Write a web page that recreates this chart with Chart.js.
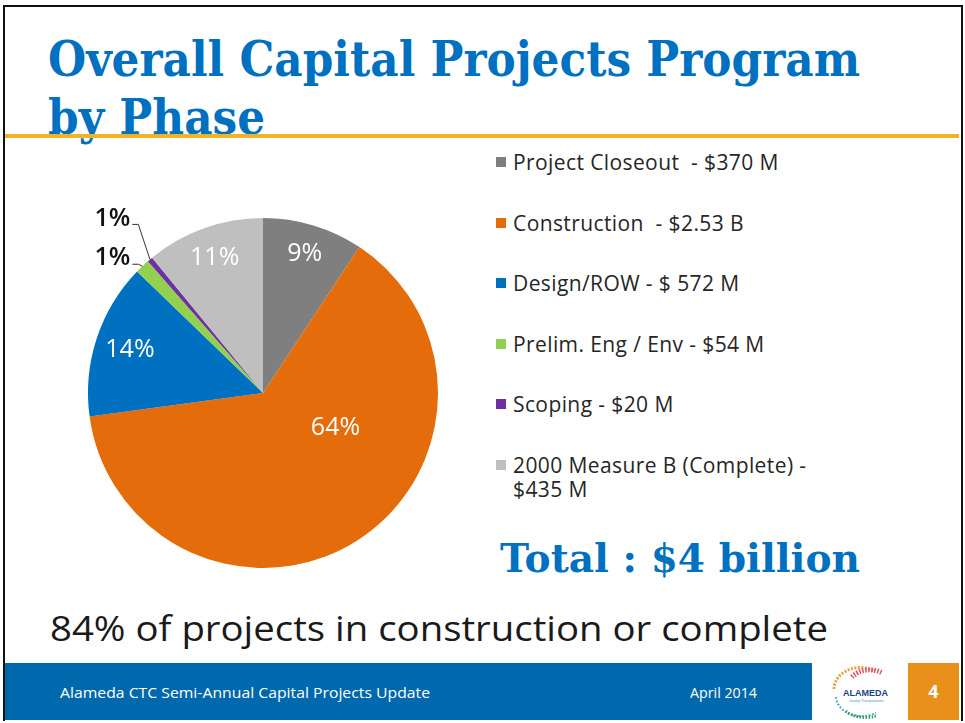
<!DOCTYPE html>
<html>
<head>
<meta charset="utf-8">
<script src="https://cdn.jsdelivr.net/npm/chart.js@4.4.1/dist/chart.umd.min.js"></script>
<style>
  html, body { margin: 0; padding: 0; background: #fff; }
  #slide { position: relative; width: 965px; height: 723px; overflow: hidden; background: #fff; }
  .frame { position: absolute; left: 3px; top: 5px; width: 956px; height: 714px; border: 2px solid #111; border-bottom: 0; }
  .serifa { font-family: "DejaVu Serif", "Liberation Serif", serif; font-weight: bold; color: #0070C0;
            white-space: nowrap; transform-origin: 0 0; }
  #titulo { position: absolute; left: 48px; top: 30px; font-size: 48px; line-height: 58px; }
  .gold { position: absolute; left: 5px; top: 134px; width: 954px; height: 4px; background: #F0B323; }
  #pieBox { position: absolute; left: 63px; top: 193px; width: 400px; height: 400px; }
  #legenda { position: absolute; left: 496px; top: 150px; width: 360px; font-family: "Open Sans", sans-serif;
             font-size: 21px; letter-spacing: 0.4px; line-height: 24px; color: #262626; }
  .leg-item { display: flex; align-items: flex-start; margin-bottom: 36.5px; }
  .leg-sq { width: 10px; height: 10px; margin-top: 7px; margin-right: 7px; flex: none; }
  .leg-txt { width: 320px; white-space: pre-wrap; }
  #total { position: absolute; left: 500px; top: 534px; font-size: 40px; }
  .larg { white-space: nowrap; transform-origin: 0 0; }
  #resumo { position: absolute; left: 50px; top: 605px; font-family: "Open Sans", sans-serif; font-size: 34px;
            color: #1a1a1a; }
  .rodape { position: absolute; left: 5px; top: 663px; width: 807px; height: 57px; background: #0068AC; }
  .rod-txt { position: absolute; top: 683px; font-family: "Open Sans", sans-serif; font-size: 14px; color: #fff; }
  .logo { position: absolute; left: 812px; top: 663px; width: 96px; height: 57px; background: #fff; }
  .pagina { position: absolute; left: 908px; top: 663px; width: 51px; height: 57px; background: #E8901A;
            color: #fff; font: bold 18px "Open Sans", sans-serif; text-align: center; line-height: 57px; }
</style>
</head>
<body>
<div id="slide">
  <div class="frame"></div>
  <div id="titulo" class="serifa" data-w="812">Overall Capital Projects Program<br>by Phase</div>
  <div class="gold"></div>
  <div id="pieBox"><canvas id="chartFase"></canvas></div>
  <div id="legenda"></div>
  <div id="total" class="serifa" data-w="360">Total : $4 billion</div>
  <div id="resumo" class="larg" data-w="778">84% of projects in construction or complete</div>
  <div class="rodape"></div>
  <div class="rod-txt larg" style="left:60px" data-w="370">Alameda CTC Semi-Annual Capital Projects Update</div>
  <div class="rod-txt larg" style="left:690px" data-w="67">April 2014</div>
  <div class="logo">
    <svg width="96" height="57" viewBox="0 0 96 57">
      <path d="M22 26 A26 22 0 0 1 62 8" fill="none" stroke="#E8A040" stroke-width="3" stroke-dasharray="2 1.5"/>
      <path d="M40 14 A22 18 0 0 1 70 10" fill="none" stroke="#D8506A" stroke-width="5" stroke-dasharray="1.5 1.5"/>
      <text x="31" y="33" font-family="Liberation Sans, sans-serif" font-weight="bold" font-size="9" fill="#1b3f8f">ALAMEDA</text>
      <text x="37" y="39" font-family="Liberation Sans, sans-serif" font-size="3.5" fill="#4a90c8">County Transportation</text>
      <path d="M24 34 A26 20 0 0 0 64 50" fill="none" stroke="#4AB0C8" stroke-width="2" stroke-dasharray="2 1.5"/>
      <path d="M34 48 A22 12 0 0 0 64 53" fill="none" stroke="#3A9A70" stroke-width="3" stroke-dasharray="1.5 1.5"/>
    </svg>
  </div>
  <div class="pagina">4</div>
</div>
<script>
// dados do gráfico (valores em milhões de US$)
const fases = ['Project Closeout', 'Construction', 'Design/ROW', 'Prelim. Eng / Env', 'Scoping', '2000 Measure B (Complete)'];
const valores = [370, 2530, 572, 54, 20, 435];
const textosLegenda = ['Project Closeout  - $370 M', 'Construction  - $2.53 B', 'Design/ROW - $ 572 M',
                       'Prelim. Eng / Env - $54 M', 'Scoping - $20 M', '2000 Measure B (Complete) - $435 M'];

const cores = ['#7F7F7F', '#E46C0A', '#0070C0', '#92D050', '#7030A0', '#BFBFBF'];
// ajuste do rótulo dentro da fatia: [fração ao longo da fatia, fração do raio]
const posRotulo = [[0.5, 0.83], [0.36, 0.46], [0.5, 0.8], null, null, [0.5, 0.82]];

const total = valores.reduce((a, b) => a + b, 0);
const pct = valores.map(v => Math.round(v / total * 100) + '%');

document.getElementById('legenda').innerHTML = textosLegenda.map((t, i) => `
    <div class="leg-item"><div class="leg-sq" style="background:${cores[i]}"></div><div class="leg-txt">${t}</div></div>
`).join('');

// estica os textos até a largura do slide original
document.querySelectorAll('[data-w]').forEach(el => {
    const w = el.getBoundingClientRect().width;
    el.style.transform = `scaleX(${el.dataset.w / w})`;
});

// rótulos de porcentagem (dentro e fora da pizza)
const rotulosPlugin = {
    id: 'rotulos',
    afterDatasetsDraw(chart) {
        const ctx = chart.ctx;
        const arcs = chart.getDatasetMeta(0).data;
        ctx.save();
        ctx.textBaseline = 'middle';
        let pequenos = [];
        arcs.forEach((arc, i) => {
            const p = posRotulo[i];
            if (!p) { pequenos.push(i); return; }
            const ang = arc.startAngle + (arc.endAngle - arc.startAngle) * p[0];
            const r = arc.outerRadius * p[1];
            ctx.font = '500 25px "Open Sans", sans-serif';
            ctx.fillStyle = '#fff';
            ctx.textAlign = 'center';
            ctx.fillText(pct[i], arc.x + Math.cos(ang) * r, arc.y + Math.sin(ang) * r);
        });
        // fatias pequenas: rótulo fora com linha guia
        const pts = pequenos.map(i => {
            const a = arcs[i];
            const m = (a.startAngle + a.endAngle) / 2;
            return { i, x: a.x + Math.cos(m) * a.outerRadius, y: a.y + Math.sin(m) * a.outerRadius };
        });
        const dir = Math.min(...pts.map(p => p.x)) - 12;
        pts.forEach((p, k) => {
            const ly = p.y - 8 - 33 * k;
            ctx.font = '600 25px "Open Sans", sans-serif';
            ctx.fillStyle = '#111';
            ctx.textAlign = 'right';
            ctx.fillText(pct[p.i], dir, ly);
            ctx.strokeStyle = '#333';
            ctx.lineWidth = 1;
            ctx.beginPath();
            ctx.moveTo(dir + 2, ly + 6);
            ctx.lineTo(dir + 8, ly + 6);
            ctx.lineTo(p.x, p.y);
            ctx.stroke();
        });
        ctx.restore();
    }
};

new Chart(document.getElementById('chartFase'), {
    type: 'pie',
    data: { labels: fases, datasets: [{ data: valores, backgroundColor: cores, borderWidth: 0 }] },
    options: {
        responsive: true, maintainAspectRatio: false, animation: false,
        layout: { padding: 25 },
        plugins: { legend: { display: false }, tooltip: { enabled: false } }
    },
    plugins: [rotulosPlugin]
});
</script>
</body>
</html>
